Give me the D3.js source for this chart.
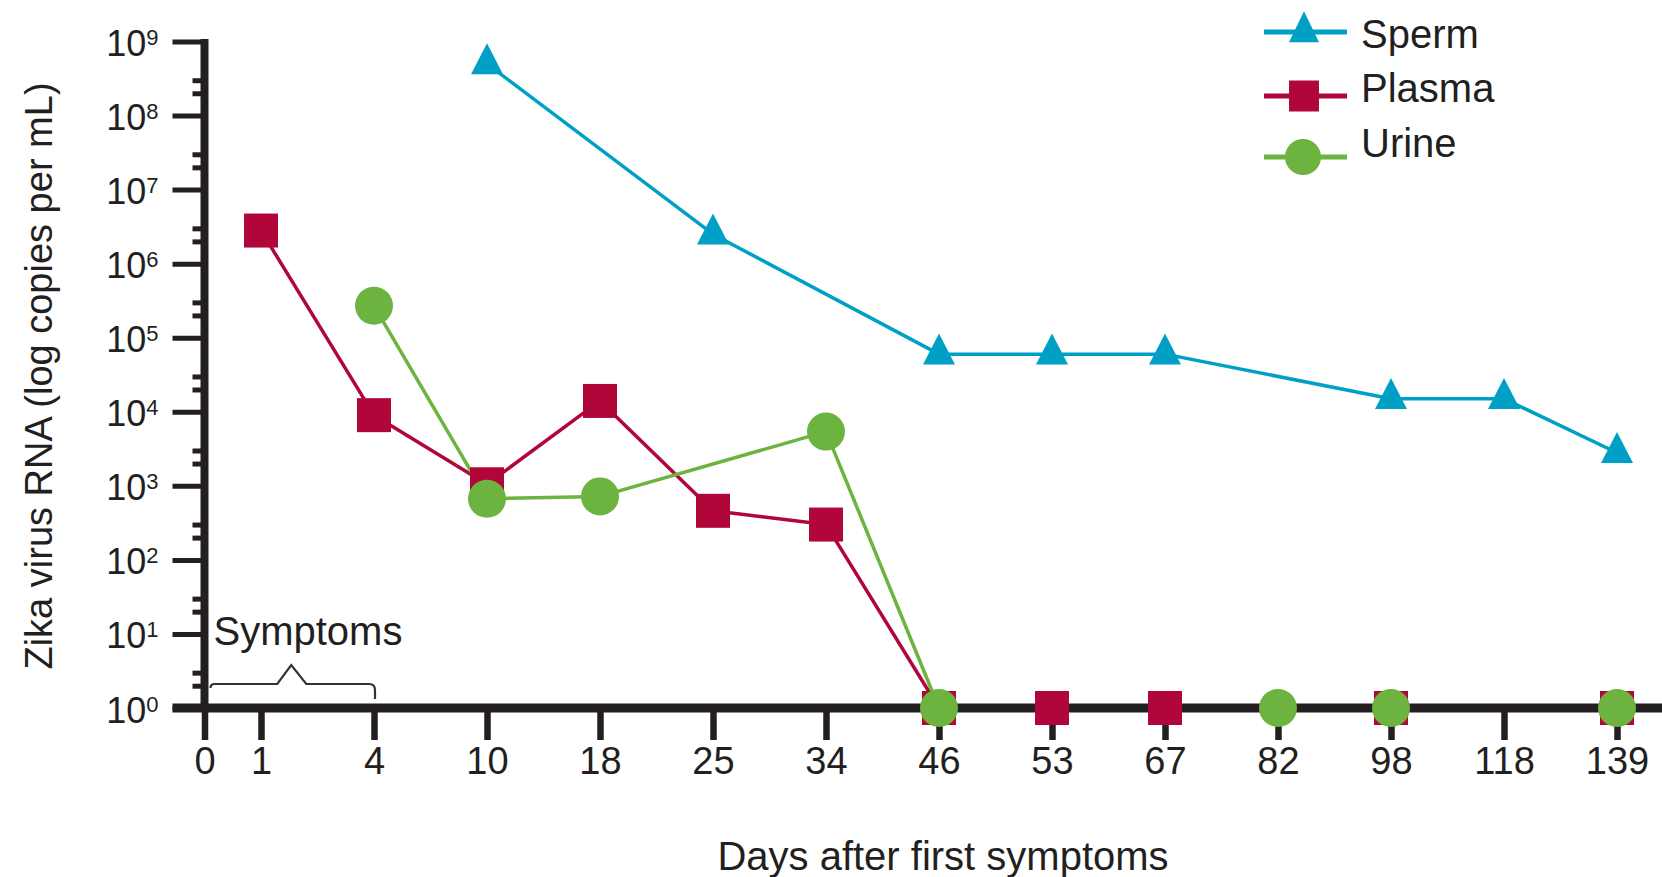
<!DOCTYPE html>
<html>
<head>
<meta charset="utf-8">
<script src="https://cdn.jsdelivr.net/npm/d3@7"></script>
<style>
  html, body { margin: 0; padding: 0; background: #fff; }
  svg { display: block; font-family: "Liberation Sans", Arial, sans-serif; }
</style>
</head>
<body>
<svg id="chart" width="1662" height="877"></svg>
<script>
// Sampling days shown on the x axis (ordinal, not proportional)
const dayTicks = [0, 1, 4, 10, 18, 25, 34, 46, 53, 67, 82, 98, 118, 139];
// Powers of ten on the log y axis
const decadeExponents = [0, 1, 2, 3, 4, 5, 6, 7, 8, 9];
// Minor ticks at 2x and 3x each decade
const minorMultipliers = [2, 3];

// Zika virus RNA load (copies per mL); 1 = undetectable
const spermDays   = [10, 25, 46, 53, 67, 98, 118, 139];
const spermValues = [5e8, 2.5e6, 6e4, 6e4, 6e4, 1.5e4, 1.5e4, 2.8e3];

const plasmaDays   = [1, 4, 10, 18, 25, 34, 46, 53, 67, 98, 139];
const plasmaValues = [2.8e6, 9e3, 1.05e3, 1.4e4, 4.6e2, 3e2, 1, 1, 1, 1, 1];

const urineDays   = [4, 10, 18, 34, 46, 82, 98, 139];
const urineValues = [2.7e5, 6.7e2, 7.2e2, 5.4e3, 1, 1, 1, 1];

const seriesNames  = ["Sperm", "Plasma", "Urine"];
const seriesColors = ["#00a0c6", "#b0063a", "#6cb33f"];

const symptomStart = 0, symptomEnd = 4;

const ink = "#231f20";
const svg = d3.select("#chart");

// Layers: connecting lines sit under the axes, markers sit above them
const linesLayer = svg.append("g");
const axisLayer = svg.append("g");
const markerLayer = svg.append("g");

// ---- scales ----
// Days 1..139 are evenly spaced; day 0 sits half a step before day 1
const xPts = d3.scalePoint().domain(dayTicks.slice(1)).range([261, 1617]);
const x = d => d === 0 ? xPts(dayTicks[1]) - xPts.step() / 2 : xPts(d);
const xAxisScale = d3.scaleOrdinal().domain(dayTicks).range(dayTicks.map(x));

const y = d3.scaleLog().domain([1, 1e9]).range([708, 41.5]);
const y0 = y(1);
const x0 = x(0);

// ---- y axis ----
const decades = decadeExponents.map(e => Math.pow(10, e));
const minors = [];
decadeExponents.slice(0, -1).forEach(e => minorMultipliers.forEach(m => minors.push(m * Math.pow(10, e))));

const yMinor = axisLayer.append("g").attr("transform", `translate(${x0},0)`)
  .call(d3.axisLeft(y).tickValues(minors).tickSize(12).tickSizeOuter(0).tickFormat(() => ""));
yMinor.select(".domain").remove();
yMinor.selectAll(".tick line").attr("stroke", ink).attr("stroke-width", 5);

const yMajor = axisLayer.append("g").attr("transform", `translate(${x0},0)`)
  .call(d3.axisLeft(y).tickValues(decades).tickSize(32).tickSizeOuter(0).tickFormat(() => ""));
yMajor.select(".domain").remove();
yMajor.selectAll(".tick line").attr("stroke", ink).attr("stroke-width", 5);
yMajor.selectAll(".tick text").remove();
yMajor.selectAll(".tick").each(function(d) {
  const t = d3.select(this).append("text")
    .attr("x", -46).attr("y", 14)
    .attr("text-anchor", "end")
    .attr("fill", ink)
    .attr("font-size", 36);
  t.append("tspan").text("10");
  t.append("tspan").attr("font-size", 22).attr("dy", -11).text(Math.round(Math.log10(d)));
});

axisLayer.append("line")
  .attr("x1", x0).attr("x2", x0)
  .attr("y1", y(1e9) - 2.5).attr("y2", y0)
  .attr("stroke", ink).attr("stroke-width", 8);

// ---- x axis ----
const xAxis = axisLayer.append("g").attr("transform", `translate(0,${y0})`)
  .call(d3.axisBottom(xAxisScale).tickValues(dayTicks).tickSize(32).tickSizeOuter(0));
xAxis.select(".domain").remove();
xAxis.selectAll(".tick line").attr("stroke", ink).attr("stroke-width", 6.5);
xAxis.selectAll(".tick text")
  .attr("y", 66).attr("dy", null)
  .attr("fill", ink)
  .attr("font-size", 38)
  .attr("font-family", null);

axisLayer.append("line")
  .attr("x1", x0 - 32).attr("x2", 1662)
  .attr("y1", y0).attr("y2", y0)
  .attr("stroke", ink).attr("stroke-width", 9);

// ---- axis titles ----
svg.append("text")
  .attr("x", 943).attr("y", 870)
  .attr("text-anchor", "middle")
  .attr("fill", ink).attr("font-size", 40)
  .text("Days after first symptoms");

svg.append("text")
  .attr("transform", "translate(52,376) rotate(-90)")
  .attr("text-anchor", "middle")
  .attr("fill", ink).attr("font-size", 38)
  .text("Zika virus RNA (log copies per mL)");

// ---- symptom period brace ----
const bx0 = x(symptomStart) + 6, bx1 = x(symptomEnd) + 1;
const bMid = (x(symptomStart) + x(symptomEnd)) / 2 + 2;
const bY = y0 - 24;
svg.append("path")
  .attr("d", `M${bx0},${bY + 4} Q${bx0},${bY} ${bx0 + 4},${bY}
              L${bMid - 14},${bY} L${bMid},${bY - 19} L${bMid + 15},${bY}
              L${bx1 - 6},${bY} Q${bx1},${bY} ${bx1},${bY + 6} L${bx1},${bY + 15}`)
  .attr("fill", "none").attr("stroke", "#333").attr("stroke-width", 2.2);
svg.append("text")
  .attr("x", x(symptomStart) + 9).attr("y", bY - 39)
  .attr("fill", ink).attr("font-size", 40)
  .text("Symptoms");

// ---- series ----
const line = d3.line().x(d => x(d[0])).y(d => y(d[1]));
const triPath = (w, h) => `M0,${-h * 2 / 3}L${w / 2},${h / 3}L${-w / 2},${h / 3}Z`;

function drawSeries(days, values, color, marker) {
  const pts = days.map((d, i) => [d, values[i]]);
  linesLayer.append("path").datum(pts).attr("d", line)
    .attr("fill", "none").attr("stroke", color).attr("stroke-width", 3.5)
    .attr("stroke-linejoin", "round");
  const m = markerLayer.append("g").selectAll(".m").data(pts).enter();
  if (marker === "square") {
    m.append("rect")
      .attr("x", d => x(d[0]) - 17).attr("y", d => y(d[1]) - 17)
      .attr("width", 34).attr("height", 34).attr("fill", color);
  } else if (marker === "circle") {
    m.append("circle")
      .attr("cx", d => x(d[0])).attr("cy", d => y(d[1])).attr("r", 19)
      .attr("fill", color);
  } else {
    m.append("path")
      .attr("transform", d => `translate(${x(d[0])},${y(d[1])})`)
      .attr("d", triPath(32, 31)).attr("fill", color);
  }
}

drawSeries(plasmaDays, plasmaValues, seriesColors[1], "square");
drawSeries(urineDays, urineValues, seriesColors[2], "circle");
drawSeries(spermDays, spermValues, seriesColors[0], "triangle");

// ---- legend ----
const legendMarkers = ["triangle", "square", "circle"];
const legendRowY = [32, 96, 157];
const legendTextY = [48, 102, 157];
seriesNames.forEach((name, i) => {
  const g = svg.append("g");
  g.append("line")
    .attr("x1", 1264).attr("x2", 1347)
    .attr("y1", legendRowY[i]).attr("y2", legendRowY[i])
    .attr("stroke", seriesColors[i]).attr("stroke-width", 5);
  if (legendMarkers[i] === "triangle") {
    g.append("path").attr("transform", `translate(1304,${legendRowY[i]})`)
      .attr("d", triPath(30, 31)).attr("fill", seriesColors[i]);
  } else if (legendMarkers[i] === "square") {
    g.append("rect").attr("x", 1289).attr("y", legendRowY[i] - 15.5)
      .attr("width", 30).attr("height", 31).attr("fill", seriesColors[i]);
  } else {
    g.append("circle").attr("cx", 1303).attr("cy", legendRowY[i]).attr("r", 18)
      .attr("fill", seriesColors[i]);
  }
  g.append("text")
    .attr("x", 1361).attr("y", legendTextY[i])
    .attr("fill", ink).attr("font-size", 40)
    .text(name);
});
</script>
</body>
</html>
